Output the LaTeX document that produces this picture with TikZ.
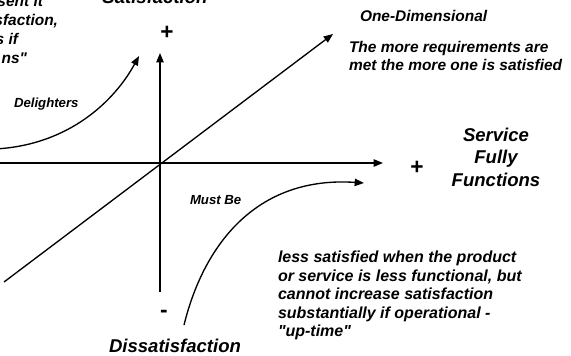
\documentclass[tikz,border=0pt]{standalone}
\usepackage{fontspec}
\setmainfont{Liberation Sans}[Ligatures=TeXOff]
\usetikzlibrary{arrows.meta}
\newcommand{\fs}[2]{\fontsize{#1}{#2}\selectfont\bfseries\itshape}
\begin{document}
\begin{tikzpicture}[x=0.75pt,y=-0.75pt,
  line width=1pt,
  arr/.style={-{Triangle[length=7pt,width=5.5pt]}},
  lbl/.style={inner sep=0pt,outer sep=0pt},
  big/.style={lbl,font=\fs{13.9}{16.9}},
  mid/.style={lbl,font=\fs{11.6}{13.7}},
  small/.style={lbl,font=\fs{9.9}{12}},
  sign/.style={lbl,font=\fontsize{17}{20}\selectfont\bfseries}]
\useasboundingbox (0,0) rectangle (571,355);
% axes
\coordinate (O) at (160,163);
\coordinate (ybot) at (160,292);
\coordinate (ytop) at (160,53);
\coordinate (xleft) at (-5,163);
\coordinate (xright) at (383,163);
\coordinate (dlow) at (4,282);
\coordinate (dhigh) at (333,34);
\draw[arr] (ybot) -- (ytop);
\draw[arr] (xleft) -- (xright);
\draw[arr] (dlow) -- (dhigh);
% delighters curve
\coordinate (ds) at (-5,149);
\coordinate (de) at (139,56);
\draw[arr] (ds) .. controls (70,145) and (115,100) .. (de);
% must be curve
\coordinate (ms) at (184,325);
\coordinate (me) at (364,183);
\draw[arr] (ms) .. controls (205,240) and (260,176) .. (me);
% signs
\node[sign] (plusy) at (167,33) {+};
\node[sign] (plusx) at (417,168) {+};
\node[sign] (minus) at (164,314) {-};
% axis labels
\node[big,anchor=base] (sat) at (155,3) {Satisfaction};
\node[big,anchor=base] (dissat) at (175,352) {Dissatisfaction};
\node[big,anchor=north,align=center] (service) at (496,128) {Service\\Fully\\Functions};
% curve labels
\node[small,anchor=base west] (deli) at (14,107) {Delighters};
\node[small,anchor=base west] (must) at (190,204) {Must Be};
\node[mid,anchor=base west] (onedim) at (360,21) {One-Dimensional};
\node[mid,anchor=north west,align=left] (onetext) at (349,41) {The more requirements are\\met the more one is satisfied};
\node[mid,font=\fs{12}{13.9},anchor=north west,align=left] (musttext) at (278,251) {less satisfied when the product\\or service is less functional, but\\cannot increase satisfaction\\substantially if operational -\\"up-time"};
% cut-off text at top left
\node[mid,anchor=base east] (tl1) at (43,6) {sent it};
\node[mid,anchor=base east] (tl2) at (58,25) {sfaction,};
\node[mid,anchor=base east] (tl3) at (18,44) {s if};
\node[mid,anchor=base east] (tl4) at (27,63) {ns"};
\end{tikzpicture}
\end{document}
